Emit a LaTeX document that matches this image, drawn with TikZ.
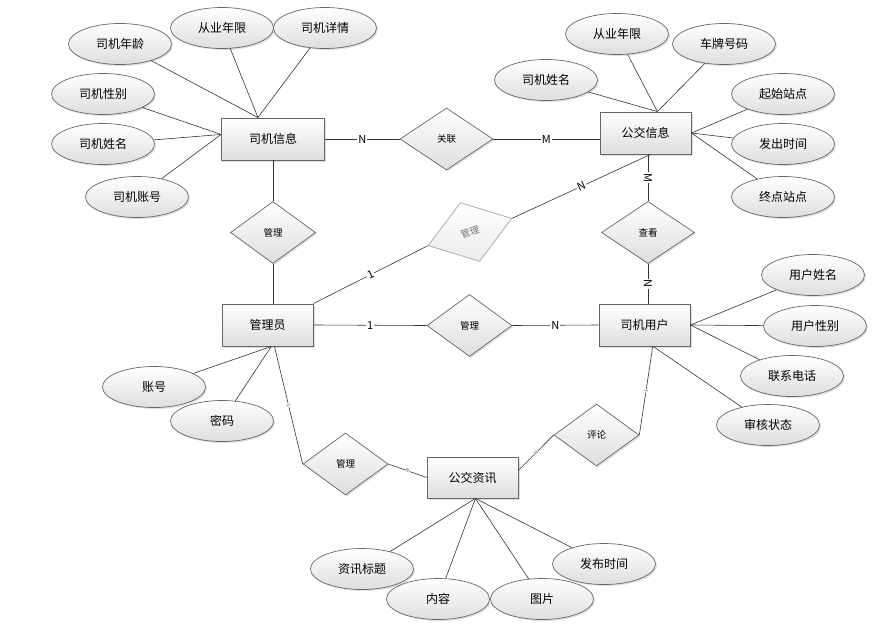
\documentclass[tikz,border=0pt]{standalone}
\usepackage{fontspec}
\setmainfont{Noto Sans CJK SC}
\usetikzlibrary{shapes.geometric,shadows}

\begin{document}
\begin{tikzpicture}[x=1pt,y=-1pt,
    shade/.style={top color=white, bottom color=black!13,
      drop shadow={opacity=0.25, shadow xshift=1.5pt, shadow yshift=-1.5pt}},
    entity/.style={draw=black!60, line width=0.9pt, rectangle, shade,
      minimum width=91pt, minimum height=42pt, font=\fontsize{12}{14}\selectfont},
    attr/.style={draw=black!60, line width=0.7pt, ellipse, shade, inner sep=0pt,
      minimum width=103pt, minimum height=41pt, font=\fontsize{12}{14}\selectfont},
    rel/.style={draw=black!60, line width=0.7pt, diamond, shade, inner sep=0pt,
      minimum width=85pt, minimum height=62pt, font=\fontsize{9.5}{11}\selectfont},
    conn/.style={draw=black!80, line width=0.6pt},
    card/.style={fill=white, inner sep=1pt, font=\fontsize{11}{12}\selectfont},
    tinycard/.style={fill=white, inner sep=0.4pt, text=black!70, font=\fontsize{5}{6}\selectfont},
  ]
    \useasboundingbox (0,0) rectangle (888,635);

    % Entities
    \node[entity, minimum width=103pt] (drvinfo) at (273,139) {司机信息};
    \node[entity] (businfo) at (645.5,133) {公交信息};
    \node[entity] (admin) at (267.5,325) {管理员};
    \node[entity] (drvuser) at (644.5,325) {司机用户};
    \node[entity, minimum height=41pt] (news) at (472.5,477.5) {公交资讯};

    % Relations
    \node[rel, minimum width=93pt] (link) at (446.5,139) {关联};
    \node[rel] (mgr1) at (273,232.5) {管理};
    \node[rel, minimum width=93pt] (view) at (648,232.5) {查看};
    \node[draw=black!35, line width=0.7pt, diamond, inner sep=0pt, top color=white, bottom color=black!8,
      text=black!55, font=\fontsize{9.5}{11}\selectfont, rotate=18,
      minimum width=88pt, minimum height=62pt] (mgrtilt) at (470,232) {管理};
    \node[rel] (mgr2) at (469.5,325.5) {管理};
    \node[rel] (mgr3) at (345.5,464) {管理};
    \node[rel] (comment) at (596.5,435) {评论};

    % Attributes of drvinfo
    \node[attr] (age) at (120,44) {司机年龄};
    \node[attr] (yearsl) at (222,28) {从业年限};
    \node[attr] (detail) at (325,28) {司机详情};
    \node[attr] (sex) at (103,94) {司机性别};
    \node[attr] (namel) at (103,144) {司机姓名};
    \node[attr] (account) at (137,197) {司机账号};

    % Attributes of businfo
    \node[attr] (namer) at (546,80) {司机姓名};
    \node[attr] (yearsr) at (617,34) {从业年限};
    \node[attr] (plate) at (724,44) {车牌号码};
    \node[attr] (start) at (783,94) {起始站点};
    \node[attr] (depart) at (783,144) {发出时间};
    \node[attr] (terminal) at (783,197) {终点站点};

    % Attributes of drvuser
    \node[attr] (uname) at (813,275) {用户姓名};
    \node[attr] (usex) at (815,326) {用户性别};
    \node[attr] (phone) at (792,376) {联系电话};
    \node[attr] (audit) at (768,425) {审核状态};

    % Attributes of admin
    \node[attr] (aacct) at (154,387) {账号};
    \node[attr] (apwd) at (222,421) {密码};

    % Attributes of news
    \node[attr] (title) at (362,569) {资讯标题};
    \node[attr] (content) at (438,599) {内容};
    \node[attr] (pubtime) at (604,564) {发布时间};
    \node[attr] (pic) at (542,599) {图片};

    % Attribute lines
    \foreach \a in {age,yearsl,detail} \draw[conn] (\a) -- (drvinfo.125);
    \foreach \a in {sex,namel,account} \draw[conn] (\a) -- (drvinfo.175);
    \foreach \a in {namer,yearsr,plate} \draw[conn] (\a) -- (businfo.61);
    \foreach \a in {start,depart,terminal} \draw[conn] (\a) -- (businfo.east);
    \foreach \a in {uname,usex,phone} \draw[conn] (\a) -- (drvuser.east);
    \draw[conn] (audit) -- (drvuser.-68);
    \foreach \a in {aacct,apwd} \draw[conn] (\a) -- (admin.-80);
    \foreach \a in {title,content,pic,pubtime} \draw[conn] (\a) -- (news.-82);

    % Connection
    \draw[conn] (drvinfo.east) -- node[card] {N} (link.west);
    \draw[conn] (link.east) -- node[card] {M} (link.east -| businfo.west);
    \draw[conn] (mgr1.north |- drvinfo.south) -- (mgr1.north);
    \draw[conn] (mgr1.south) -- (mgr1.south |- admin.north);
    \draw[conn] (view.north |- businfo.south) -- node[card, sloped] {M} (view.north);
    \draw[conn] (view.south) -- node[card, sloped] {N} (view.south |- drvuser.north);
    \draw[conn] (admin.north east) -- node[card, sloped] {1} (mgrtilt.west);
    \draw[conn] (mgrtilt.east) -- node[card, sloped] {N} (businfo.-77);
    \draw[conn] (admin.east) -- node[card] {1} (mgr2.west);
    \draw[conn] (mgr2.east) -- node[card] {N} (drvuser.west);
    \draw[conn] (admin.-72) -- node[tinycard, sloped] {1} (mgr3.west);
    \draw[conn] (mgr3.east) -- node[tinycard, sloped] {N} (news.west);
    \draw[conn] (news.9) -- node[tinycard, sloped] {N} (comment.west);
    \draw[conn] (comment.east) -- node[tinycard, sloped] {1} (drvuser.-69);
\end{tikzpicture}
\end{document}
